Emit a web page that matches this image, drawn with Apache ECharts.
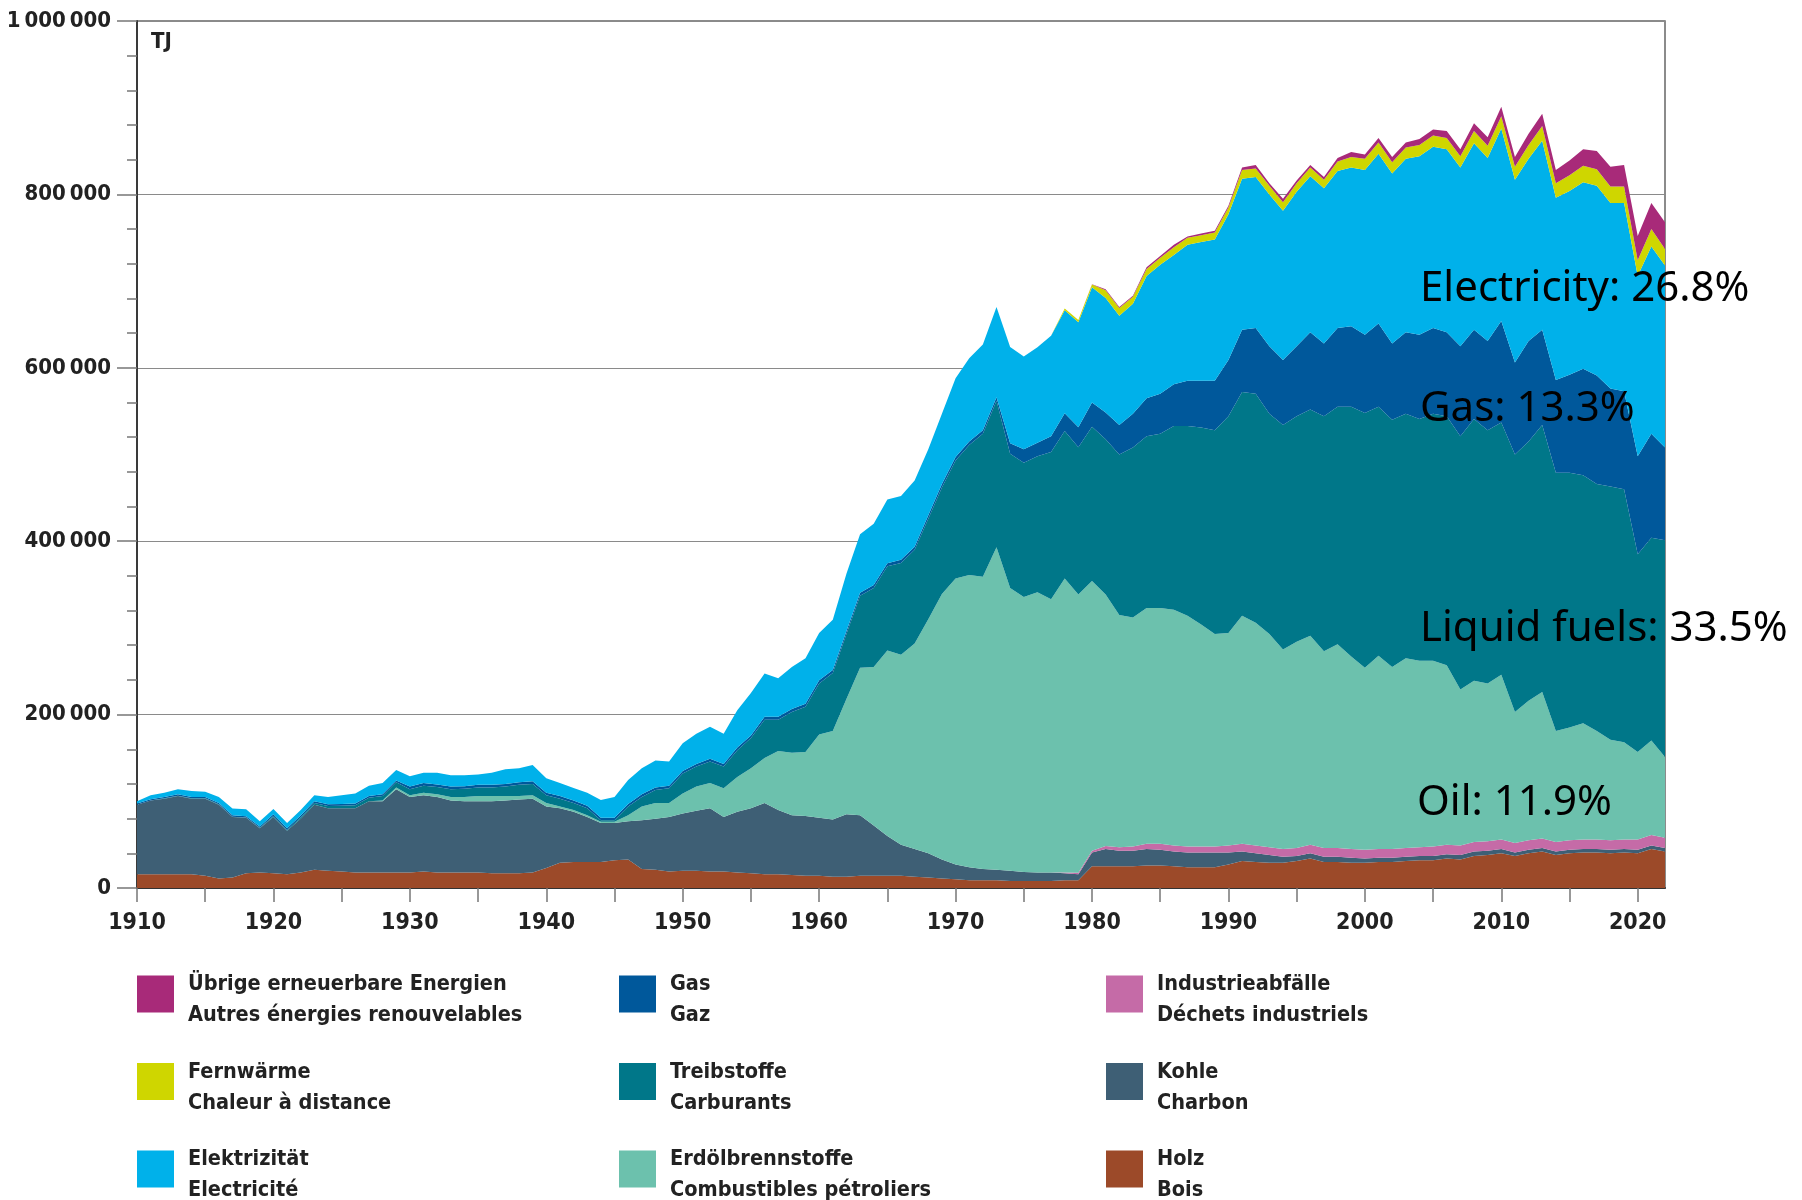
<!DOCTYPE html>
<html>
<head>
<meta charset="utf-8">
<script src="https://cdn.jsdelivr.net/npm/echarts@6/dist/echarts.min.js"></script>
<style>
  html, body { margin: 0; padding: 0; background: #fff; }
  #chart { width: 1802px; height: 1200px; }
</style>
</head>
<body>
<div id="chart"></div>
<script>
// years 1910 .. 2022
var years = [];
for (var yr = 1910; yr <= 2022; yr++) years.push(String(yr));

// all values in 1000 TJ
var holz = [
  16,16,16,16,16,14,11,12,17,18,
  17,16,18,21,20,19,18,18,18,18,
  18,19,18,18,18,18,17,17,17,18,
  23,29,30,30,30,32,33,22,21,19,
  20,20,19,19,18,17,16,16,15,14,
  14,13,13,14,14,14,14,13,12,11,
  10,9,9,9,8,8,8,8,9,9,
  25,25,25,25,26,26,25,24,24,24,
  27,31,30,29,29,31,34,30,30,29,
  29,30,30,31,32,32,34,33,37,38,
  40,37,40,42,38,40,41,41,40,41,
  40,45,42];
var kohle = [
  80,85,87,90,87,89,85,70,64,51,
  65,50,62,75,72,73,74,82,82,96,
  87,88,87,83,82,82,83,84,85,85,
  71,63,58,52,45,43,44,56,59,63,
  66,69,73,63,70,75,82,74,69,69,
  67,66,72,70,58,46,36,32,28,22,
  17,15,13,12,12,10.5,10,10,8,7,
  16,20,18,18,19,18,17,17,17,17,
  14,11,10,9,7,6,6,6,6,6,
  5,5,5,5,5,5,5,5,5,5,
  5,4,4,4,4,4,4,4,4,4,
  4,4,4];
var industrieabfaelle = [
  0,0,0,0,0,0,0,0,0,0,
  0,0,0,0,0,0,0,0,0,0,
  0,0,0,0,0,0,0,0,0,0,
  0,0,0,0,0,0,0,0,0,0,
  0,0,0,0,0,0,0,0,0,0,
  0,0,0,0,0,0,0,0,0,0,
  0,0,0,0,0,0,0,0,1,1.5,
  2,3.5,4,5,6,7,7,7,7,7,
  8,9,9,9,9,9,10,10,10,10,
  10,10,10,10,10,11,11,11,11,11,
  11,11,11,11,11,11,11,11,11,11,
  12,12,12];
var erdoel = [
  0,0,0,0,0,0,0,0,0,0,
  0,0,0,0,0,0,0,0,1,2,
  2,3,3,4,5,6,6,5,4,4,
  4,2,2,2,1.5,1.5,7,16,18,16,
  23,28,29,33,40,46,52,68,72,74,
  96,102,133,170,183,214,219,237,270,306,
  330,337,337,372,326,317,323,315,339,321,
  311,290,268,264,272,272,272,266,256,245,
  245,263,257,246,230,238,241,227,235,222,
  210,223,210,219,215,214,207,180,186,182,
  190,151,161,169,128,130,134,125,116,112,
  101,109,93];
var treibstoffe = [
  0,0,0.5,0.5,0.5,0.5,0.5,0.3,0.3,0.5,
  1,1,1.5,2,2.5,3,3.5,4,5,6,
  7,8,8.5,9,9.5,10,10,11,13,13,
  9,9,8,8,1.5,1.5,10,11,15,17,
  23,23,25,25,31,35,44,36,47,52,
  59,67,75,83,91,97,106,108,116,123,
  136,150,165,169,155,155,157,170,170,170,
  178,179,185,196,198,201,212,219,227,235,
  250,258,264,254,259,260,261,271,274,288,
  294,287,285,282,279,285,287,292,302,292,
  291,297,299,308,298,294,286,285,292,292,
  228,234,250];
var gas = [
  1.5,1.5,1.5,1.5,1.5,1.5,1.5,1.5,1.5,1.5,
  2,2,2,2,2,2,2,2,2,2,
  3,3,3,3,3,3,3,3,3,3,
  3,3,3,3,3,3,3,3,3,3,
  3,3,3,3,3,3,3.5,3.5,3.5,3.5,
  3.5,3.5,3.5,3.5,3.5,3.5,3.5,3.5,4,4,
  4,4,4,4,12,15.5,15.6,18,20.5,23,
  28,31,34,39,44,46,48,52,54,57,
  65,72,76,78,75,81,89,84,91,93,
  90,96,88,94,97,99,97,104,103,103,
  117,106,116,110,107,113,123,125,113,113,
  113,120,107];
var elektrizitaet = [
  2.5,4.5,5,6,7,6,7,8,8,6,
  6,6,6.5,7,8.5,10,11.5,12,13,12,
  12,12,13.5,13,12.5,12,14,17,16,19,
  16.5,15,14.3,15,20.5,24,27.6,30,31,28,
  32,35,37,35,43,49,50,44.5,48.5,52.5,
  54.5,58,66,67.5,70.5,73.5,73.5,76.5,76,81,
  91,96,99,104,111,107,110,116,119,121,
  133,132,126,127,141,149,149,157,160,163,
  168,174,174,175,172,178,180,179,181,183,
  190,196,196,200,206,209,211,206,215,211,
  222,211,210,218,210,212,215,219,214,217,
  208,216,210];
var fernwaerme = [
  0,0,0,0,0,0,0,0,0,0,
  0,0,0,0,0,0,0,0,0,0,
  0,0,0,0,0,0,0,0,0,0,
  0,0,0,0,0,0,0,0,0,0,
  0,0,0,0,0,0,0,0,0,0,
  0,0,0,0,0,0,0,0,0,0,
  0,0,0,0,0,0,0,0,2,2.5,
  3,9,9,8,8,8,9,8,8,8,
  8,10,10,10,10,10,10,10,11,12,
  13,13,13,13,13,13,13,13,14,14,
  14,15,16,17,17,18,19,19,19,19,
  18,20,19];
var uebrige = [
  0,0,0,0,0,0,0,0,0,0,
  0,0,0,0,0,0,0,0,0,0,
  0,0,0,0,0,0,0,0,0,0,
  0,0,0,0,0,0,0,0,0,0,
  0,0,0,0,0,0,0,0,0,0,
  0,0,0,0,0,0,0,0,0,0,
  0,0,0,0,0,0,0,0,0,0,
  0.5,1,1,1,2,2,3,1.5,2,2,
  2,3,4,3,4,3,3,3,4,6,
  5,5,6,6,7,7,8,8,9,10,
  11,11,13,14,15,17,19,21,23,25,
  28,30,31];

var yTickLabels = ['0', '200\u2009000', '400\u2009000', '600\u2009000', '800\u2009000', '1\u2009000\u2009000'];

var narrow = '"Liberation Sans Narrow", "DejaVu Sans Condensed", "Roboto Condensed", Roboto, sans-serif';

// bottom to top
var layers = [
  ['Holz', holz, '#9c4a29'],
  ['Kohle', kohle, '#3e5f75'],
  ['Industrieabfälle', industrieabfaelle, '#c56ba7'],
  ['Erdölbrennstoffe', erdoel, '#6cc1ad'],
  ['Treibstoffe', treibstoffe, '#007789'],
  ['Gas', gas, '#00589b'],
  ['Elektrizität', elektrizitaet, '#00b1ea'],
  ['Fernwärme', fernwaerme, '#cfd600'],
  ['Übrige erneuerbare Energien', uebrige, '#a82a79']
];

var legendText = {
  'Übrige erneuerbare Energien': ['Übrige erneuerbare Energien', 'Autres énergies renouvelables'],
  'Fernwärme': ['Fernwärme', 'Chaleur à distance'],
  'Elektrizität': ['Elektrizität', 'Electricité'],
  'Gas': ['Gas', 'Gaz'],
  'Treibstoffe': ['Treibstoffe', 'Carburants'],
  'Erdölbrennstoffe': ['Erdölbrennstoffe', 'Combustibles pétroliers'],
  'Industrieabfälle': ['Industrieabfälle', 'Déchets industriels'],
  'Kohle': ['Kohle', 'Charbon'],
  'Holz': ['Holz', 'Bois']
};

var series = layers.map(function (l) {
  return {
    name: l[0],
    type: 'line',
    stack: 'total',
    symbol: 'none',
    showSymbol: false,
    lineStyle: { width: 0, color: l[2] },
    itemStyle: { color: l[2] },
    areaStyle: { color: l[2], opacity: 1 },
    data: l[1].map(function (v) { return v * 1000; })
  };
});

function makeLegend(names, left) {
  return {
    data: names,
    orient: 'vertical',
    left: left,
    top: 962,
    height: 320,
    width: 420,
    padding: 0,
    itemWidth: 37,
    itemHeight: 37,
    itemGap: 23,
    icon: 'rect',
    selectedMode: false,
    // a thin empty first line pushes the two text lines a bit below the box centre
    formatter: function (n) {
      var t = legendText[n];
      return '{s| }\n{a|' + t[0] + '}\n{a|' + t[1] + '}';
    },
    textStyle: {
      padding: [0, 0, 0, 9],
      rich: {
        s: { fontSize: 2, lineHeight: 12 },
        a: { fontFamily: narrow, fontSize: 21.5, fontWeight: 'bold', lineHeight: 31, color: '#222' }
      }
    }
  };
}

var chart = echarts.init(document.getElementById('chart'));
chart.setOption({
  animation: false,
  backgroundColor: '#fff',
  grid: {
    left: 137, right: 137, top: 21, bottom: 312,
    containLabel: false, outerBoundsMode: 'none',
    show: true, borderColor: '#666', borderWidth: 1.5
  },
  xAxis: {
    type: 'category',
    data: years,
    boundaryGap: false,
    axisLine: { lineStyle: { color: '#333', width: 2 } },
    axisTick: {
      interval: function (i, v) { return (+v) % 5 === 0; },
      length: 14,
      lineStyle: { color: '#777', width: 1.5 }
    },
    axisLabel: {
      interval: function (i, v) { return (+v) % 10 === 0; },
      margin: 24,
      fontFamily: narrow, fontSize: 23, fontWeight: 'bold', color: '#222'
    },
    splitLine: { show: false }
  },
  yAxis: {
    type: 'value',
    min: 0, max: 1000000, interval: 200000,
    axisLine: { show: true, lineStyle: { color: '#3a3a3a', width: 2 } },
    axisTick: { show: true, length: 20, lineStyle: { color: '#777', width: 1.5 } },
    minorTick: { show: true, splitNumber: 5, length: 10, lineStyle: { color: '#777', width: 1.5 } },
    splitLine: { lineStyle: { color: '#8a8a8a', width: 1.2 } },
    axisLabel: {
      margin: 26,
      fontFamily: narrow, fontSize: 22, fontWeight: 'bold', color: '#222',
      formatter: function (v) { return yTickLabels[Math.round(v / 200000)]; }
    }
  },
  legend: [
    makeLegend(['Übrige erneuerbare Energien', 'Fernwärme', 'Elektrizität'], 137),
    makeLegend(['Gas', 'Treibstoffe', 'Erdölbrennstoffe'], 619),
    makeLegend(['Industrieabfälle', 'Kohle', 'Holz'], 1106)
  ],
  graphic: [
    { type: 'text', x: 151, y: 31, z: 100,
      style: { text: 'TJ', font: 'bold 22px ' + narrow, fill: '#222' } },
    { type: 'text', x: 1420, y: 289, z: 100,
      style: { text: 'Electricity: 26.8%', font: '42px "Noto Sans"', fill: '#000', verticalAlign: 'middle' } },
    { type: 'text', x: 1420, y: 409, z: 100,
      style: { text: 'Gas: 13.3%', font: '42px "Noto Sans"', fill: '#000', verticalAlign: 'middle' } },
    { type: 'text', x: 1420, y: 629, z: 100,
      style: { text: 'Liquid fuels: 33.5%', font: '42px "Noto Sans"', fill: '#000', verticalAlign: 'middle' } },
    { type: 'text', x: 1417, y: 803, z: 100,
      style: { text: 'Oil: 11.9%', font: '42px "Noto Sans"', fill: '#000', verticalAlign: 'middle' } }
  ],
  series: series
});
</script>
</body>
</html>
